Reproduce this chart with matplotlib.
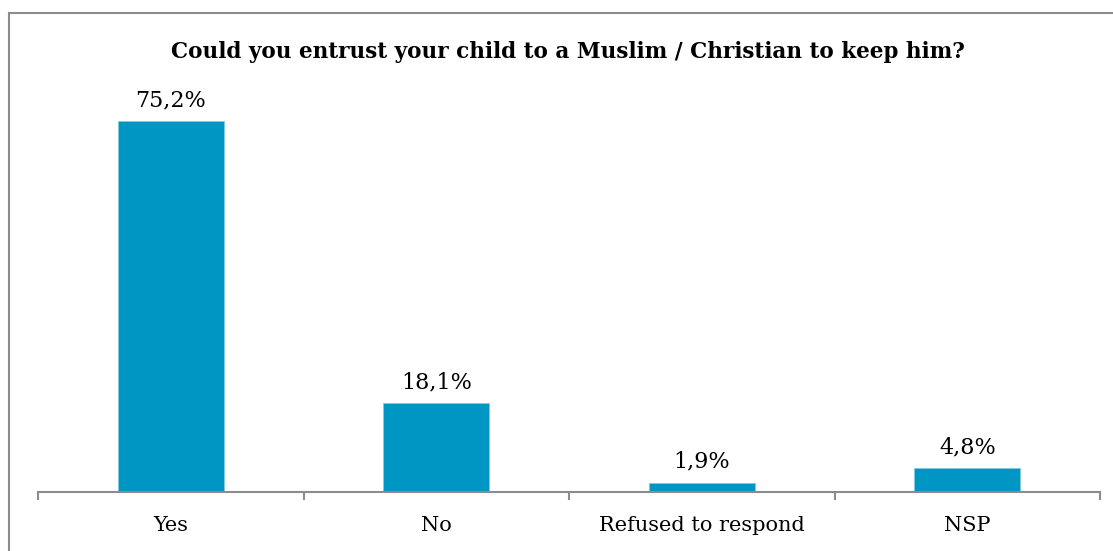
import matplotlib
matplotlib.use("Agg")
import matplotlib.pyplot as plt
from matplotlib.lines import Line2D

categories = ["Yes", "No", "Refused to respond", "NSP"]
values = [75.2, 18.1, 1.9, 4.8]
labels = ["75,2%", "18,1%", "1,9%", "4,8%"]
title = "Could you entrust your child to a Muslim / Christian to keep him?"

W, H = 1113, 551
fig = plt.figure(figsize=(W / 100, H / 100), dpi=100)
plt.rcParams['font.family'] = ['DejaVu Serif']

# frame lines (top and left)
fig.add_artist(Line2D([9 / W, 1.0], [1 - 13 / H, 1 - 13 / H], color="#8c8c8c", lw=1.5))
fig.add_artist(Line2D([9 / W, 9 / W], [0, 1 - 13 / H], color="#8c8c8c", lw=1.5))

ax_left, ax_right = 38 / W, 1100 / W
ax_bottom = (H - 492) / H
ymax = 80
ax_top_px = 492 - ymax * (371 / 75.2)
ax = fig.add_axes([ax_left, ax_bottom, ax_right - ax_left, (492 - ax_top_px) / H])

x = list(range(len(categories)))
ax.bar(x, values, width=0.4, color="#0096C4", edgecolor="#7fcbe2", linewidth=0.6)
ax.set_xlim(-0.5, len(categories) - 0.5)
ax.set_ylim(0, ymax)

for xi, v, lab in zip(x, values, labels):
    ax.annotate(lab, (xi, v), xytext=(0, 7), textcoords="offset points",
                ha="center", va="bottom", fontsize=16, family="DejaVu Serif")

for s in ["top", "right", "left"]:
    ax.spines[s].set_visible(False)
ax.spines["bottom"].set_color("#8c8c8c")
ax.spines["bottom"].set_linewidth(1.5)
ax.set_yticks([])
ax.set_xticks([i - 0.5 for i in range(len(categories) + 1)], minor=False)
ax.set_xticklabels([])
ax.tick_params(axis="x", which="major", direction="out", length=6, width=1.5, color="#8c8c8c")
ax.set_xticks(x, minor=True)
ax.set_xticklabels(categories, minor=True, fontsize=15)
ax.tick_params(axis="x", which="minor", length=0, pad=17)

fig.text(568 / W, 1 - 52 / H, title, ha="center", va="center",
         fontsize=15.5, fontweight="bold")

fig.savefig("out.png", dpi=100)
